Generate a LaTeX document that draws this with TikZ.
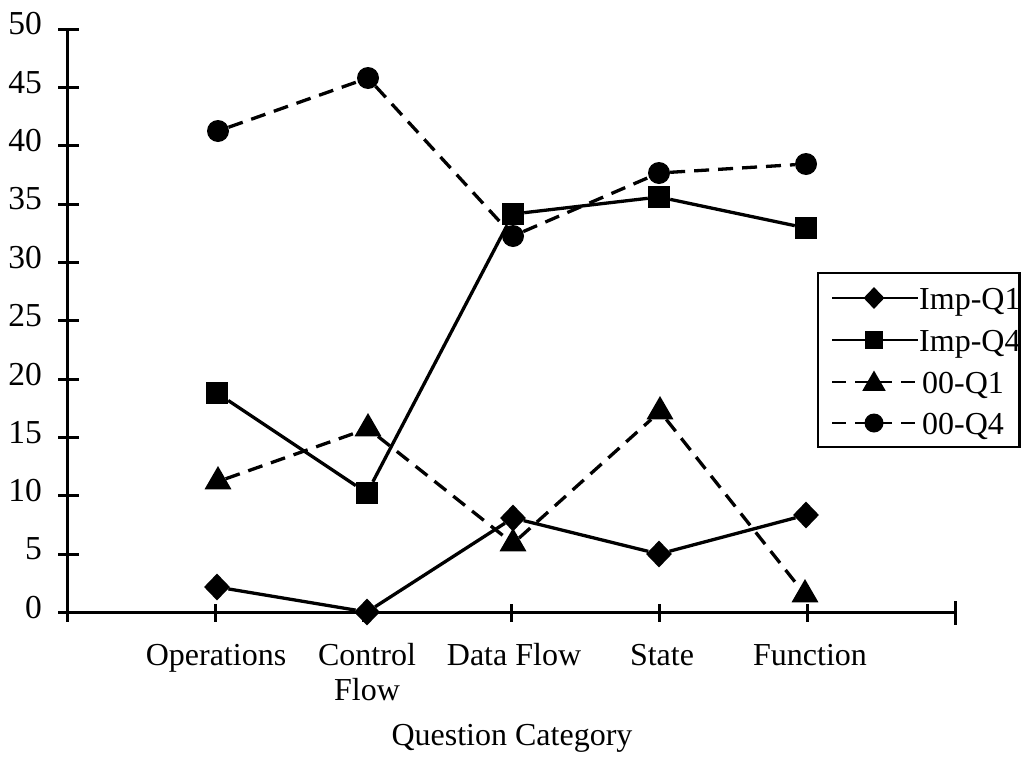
\documentclass[tikz,border=0pt]{standalone}
\usepackage{fontspec}
\setmainfont{Liberation Serif}
\usetikzlibrary{shapes.geometric}
\begin{document}
\begin{tikzpicture}[x=1pt,y=-1pt,
  lbl/.style={font=\fontsize{32}{35}\selectfont, inner sep=0pt},
  ylbl/.style={font=\fontsize{33.5}{36}\selectfont, inner sep=0pt},
  ax/.style={line width=3pt},
  solidline/.style={line width=3.3pt},
  dashline/.style={line width=3.3pt, dash pattern=on 15pt off 9pt},
  mdia/.style={diamond, fill=black, inner sep=0pt, minimum width=26pt, minimum height=27pt},
  msq/.style={rectangle, fill=black, inner sep=0pt, minimum size=22pt},
  mtri/.style={regular polygon, regular polygon sides=3, fill=black, inner sep=0pt, minimum size=31pt},
  mcirc/.style={circle, fill=black, inner sep=0pt, minimum size=22pt},
  ldia/.style={mdia, minimum width=21pt, minimum height=22pt},
  lsq/.style={msq, minimum size=18pt},
  ltri/.style={mtri, minimum size=27pt},
  lcirc/.style={mcirc, minimum size=19pt},
]
\useasboundingbox (0,0) rectangle (1021,758);

% axes
\coordinate (Ytop) at (67,29);
\coordinate (O) at (67,612.5);
\coordinate (Xend) at (955,612.5);
\draw[ax] (Ytop) -- (O) -- (Xend);
\foreach \i in {0,...,10}{
  \pgfmathsetmacro{\yy}{612.5-\i*58.35}
  \draw[ax] (58,\yy) -- (79,\yy);
  \pgfmathtruncatemacro{\v}{5*\i}
  \node[ylbl, anchor=east] (yl\i) at (42,\yy-5) {\v};
}
\draw[ax] (67,612.5) -- (67,622);
\foreach \k in {1,...,5}{
  \draw[ax] (67+148*\k,604) -- (67+148*\k,622);
}
\draw[ax] (955,601) -- (955,625);

% category labels
\node[lbl, anchor=base] (c1) at (216,665.5) {Operations};
\node[lbl, anchor=north, align=center] (c2) at (367,643) {Control\\Flow};
\node[lbl, anchor=base] (c3) at (514,665.5) {Data Flow};
\node[lbl, anchor=base] (c4) at (662,665.5) {State};
\node[lbl, anchor=base] (c5) at (810,665.5) {Function};
\node[lbl, anchor=base] (xt) at (512,745) {Question Category};

% Imp-Q1
\node[mdia] (a1) at (217,587) {};
\node[mdia] (a2) at (367,612) {};
\node[mdia] (a3) at (513,518) {};
\node[mdia] (a4) at (659,554) {};
\node[mdia] (a5) at (806,515) {};
\draw[solidline] (a1) -- (a2) -- (a3) -- (a4) -- (a5);

% Imp-Q4
\node[msq] (b1) at (217,393) {};
\node[msq] (b2) at (367,493) {};
\node[msq] (b3) at (513,214) {};
\node[msq] (b4) at (659,197) {};
\node[msq] (b5) at (806,228) {};
\draw[solidline] (b1) -- (b2) -- (b3) -- (b4) -- (b5);

% 00-Q1
\node[mtri] (t1) at (218,481.5) {};
\node[mtri] (t2) at (368,428.5) {};
\node[mtri] (t3) at (513,543.5) {};
\node[mtri] (t4) at (660,411.5) {};
\node[mtri] (t5) at (805,594.5) {};
\draw[dashline] (t1) -- (t2) -- (t3) -- (t4) -- (t5);

% 00-Q4
\node[mcirc] (d1) at (218,131) {};
\node[mcirc] (d2) at (368,78) {};
\node[mcirc] (d3) at (513,236) {};
\node[mcirc] (d4) at (659,173) {};
\node[mcirc] (d5) at (806,164) {};
\draw[dashline] (d1) -- (d2) -- (d3) -- (d4) -- (d5);

% legend
\draw[line width=2.4pt] (818,273) rectangle (1019.5,447);
\coordinate (la1) at (832,298); \coordinate (la2) at (918,298);
\coordinate (lb1) at (832,340); \coordinate (lb2) at (918,340);
\coordinate (lc1) at (832,382); \coordinate (lc2) at (918,382);
\coordinate (ld1) at (832,423); \coordinate (ld2) at (918,423);
\draw[solidline, line width=2.4pt] (la1) -- (la2);
\draw[solidline, line width=2.4pt] (lb1) -- (lb2);
\draw[dashline, line width=2.4pt, dash pattern=on 14pt off 9pt] (lc1) -- (lc2);
\draw[dashline, line width=2.4pt, dash pattern=on 14pt off 9pt] (ld1) -- (ld2);
\node[ldia] (lma) at (874,298) {};
\node[lsq] (lmb) at (874,340) {};
\node[ltri] (lmc) at (874,384) {};
\node[lcirc] (lmd) at (874,423) {};
\node[lbl, anchor=base west] (lta) at (919,309) {Imp-Q1};
\node[lbl, anchor=base west] (ltb) at (919,351) {Imp-Q4};
\node[lbl, anchor=base west] (ltc) at (922,393) {00-Q1};
\node[lbl, anchor=base west] (ltd) at (922,434) {00-Q4};
\end{tikzpicture}
\end{document}
